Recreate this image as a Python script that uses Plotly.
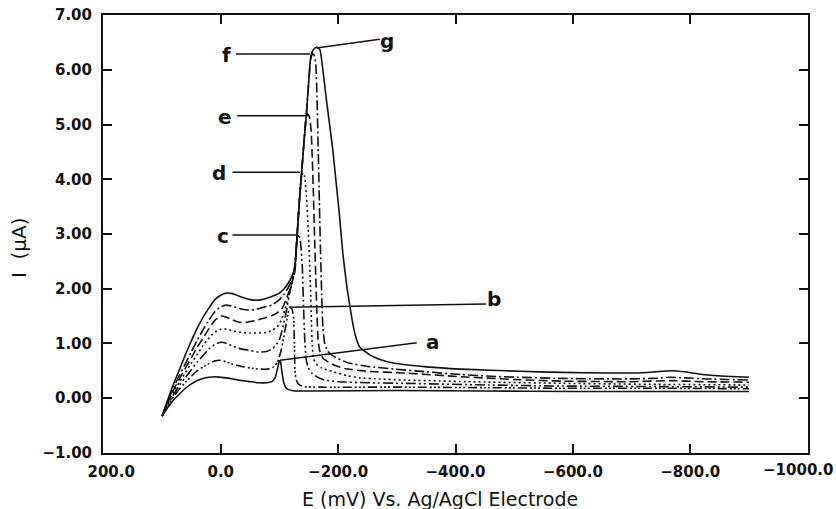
import plotly.graph_objects as go

# ---------------- data (E in mV, I in uA) ----------------
E_a = [100, 90, 80, 70, 60, 50, 40, 30, 20, 10, 0, -10, -20, -35, -50, -65, -78, -87, -93, -97, -100, -102, -104, -107, -111, -117, -126, -150, -300, -450, -600, -750, -900]
I_a = [-0.33, -0.17, -0.03, 0.08, 0.18, 0.26, 0.32, 0.36, 0.38, 0.39, 0.38, 0.37, 0.35, 0.32, 0.30, 0.28, 0.28, 0.30, 0.38, 0.55, 0.68, 0.66, 0.50, 0.30, 0.19, 0.15, 0.13, 0.13, 0.14, 0.13, 0.12, 0.12, 0.12]

E_b = [100, 90, 80, 70, 60, 50, 40, 30, 20, 10, 0, -10, -20, -35, -50, -65, -80, -90, -97, -103, -108, -113, -117, -121, -124, -125.5, -126.5, -129, -134, -141, -170, -311, -450, -580, -750, -900]
I_b = [-0.33, -0.14, 0.03, 0.17, 0.29, 0.40, 0.50, 0.57, 0.63, 0.68, 0.69, 0.66, 0.62, 0.58, 0.55, 0.53, 0.53, 0.57, 0.66, 0.88, 1.15, 1.45, 1.66, 1.64, 1.50, 1.00, 0.50, 0.32, 0.24, 0.21, 0.20, 0.20, 0.19, 0.18, 0.18, 0.17]

E_c = [100, 90, 80, 70, 60, 50, 40, 30, 20, 10, 0, -10, -20, -35, -50, -65, -78, -88, -95, -101, -106, -112, -118, -123, -127, -130, -133, -136, -139, -141, -143, -145, -149, -156, -165, -177, -200, -250, -311, -450, -580, -750, -900]
I_c = [-0.33, -0.12, 0.07, 0.24, 0.38, 0.52, 0.66, 0.78, 0.90, 0.98, 1.02, 1.00, 0.95, 0.90, 0.87, 0.84, 0.85, 0.90, 0.98, 1.10, 1.30, 1.60, 1.95, 2.20, 2.50, 2.90, 3.00, 2.85, 2.40, 1.70, 1.10, 0.75, 0.55, 0.45, 0.38, 0.33, 0.30, 0.28, 0.27, 0.24, 0.22, 0.21, 0.20]

E_d = [100, 90, 80, 70, 60, 50, 40, 30, 20, 10, 0, -10, -20, -35, -50, -65, -78, -88, -96, -103, -109, -115, -121, -126, -130, -134, -137, -140, -143, -146, -149, -151, -153, -154.5, -156, -158, -163, -172, -192, -215, -236, -270, -311, -420, -580, -750, -900]
I_d = [-0.33, -0.10, 0.12, 0.30, 0.47, 0.64, 0.80, 0.96, 1.10, 1.21, 1.26, 1.26, 1.23, 1.20, 1.19, 1.19, 1.20, 1.24, 1.30, 1.42, 1.60, 1.85, 2.08, 2.35, 2.95, 3.60, 4.00, 4.12, 4.05, 3.70, 3.10, 2.60, 2.00, 1.40, 0.95, 0.72, 0.62, 0.55, 0.48, 0.41, 0.37, 0.35, 0.33, 0.30, 0.27, 0.25, 0.24]

E_e = [100, 90, 80, 70, 60, 50, 40, 30, 20, 10, 0, -10, -20, -30, -40, -55, -70, -85, -95, -105, -112, -118, -123, -127, -130, -134, -138, -142, -145, -148, -151, -154, -156, -158, -160, -162, -164, -166, -169, -175, -190, -211, -250, -311, -410, -500, -580, -700, -765, -820, -900]
I_e = [-0.33, -0.07, 0.16, 0.36, 0.55, 0.74, 0.93, 1.10, 1.27, 1.42, 1.50, 1.48, 1.43, 1.39, 1.38, 1.41, 1.45, 1.50, 1.55, 1.65, 1.82, 2.00, 2.18, 2.40, 2.95, 3.60, 4.15, 4.70, 5.10, 5.20, 5.15, 4.90, 4.40, 3.70, 2.90, 2.20, 1.50, 1.05, 0.85, 0.72, 0.62, 0.54, 0.49, 0.46, 0.39, 0.34, 0.31, 0.30, 0.32, 0.30, 0.29]

E_f = [100, 90, 80, 70, 60, 50, 40, 30, 20, 10, 0, -10, -20, -35, -47, -60, -72, -87, -100, -108, -115, -121, -126, -130, -134, -138, -142, -146, -150, -153, -156, -159, -162, -164, -166, -168, -170, -172, -174, -177, -182, -190, -200, -218, -250, -296, -350, -410, -480, -580, -680, -740, -765, -790, -830, -900]
I_f = [-0.33, -0.05, 0.20, 0.43, 0.63, 0.85, 1.06, 1.25, 1.43, 1.58, 1.67, 1.70, 1.68, 1.63, 1.61, 1.62, 1.66, 1.70, 1.80, 1.90, 2.02, 2.15, 2.30, 2.95, 3.60, 4.15, 4.70, 5.20, 5.80, 6.18, 6.30, 6.27, 6.10, 5.50, 4.60, 3.60, 2.70, 1.90, 1.30, 1.00, 0.86, 0.78, 0.72, 0.64, 0.58, 0.53, 0.48, 0.43, 0.39, 0.36, 0.35, 0.36, 0.38, 0.37, 0.35, 0.33]

E_g = [100, 90, 80, 70, 60, 50, 40, 30, 20, 10, 0, -10, -20, -30, -40, -50, -60, -70, -80, -90, -100, -108, -115, -121, -126, -130, -134, -138, -142, -146, -150, -153, -157, -163, -169, -174, -180, -185, -191, -197, -203, -208, -215, -224, -230, -237, -254, -270, -294, -351, -408, -460, -510, -580, -660, -710, -740, -767, -790, -820, -860, -900]
I_g = [-0.33, -0.02, 0.27, 0.53, 0.80, 1.05, 1.28, 1.48, 1.65, 1.80, 1.88, 1.92, 1.91, 1.87, 1.83, 1.80, 1.79, 1.80, 1.83, 1.87, 1.92, 2.00, 2.10, 2.22, 2.38, 2.95, 3.60, 4.15, 4.70, 5.20, 5.80, 6.20, 6.36, 6.42, 6.37, 6.00, 5.46, 5.04, 4.53, 3.90, 3.26, 2.65, 2.03, 1.42, 1.12, 0.93, 0.79, 0.71, 0.64, 0.57, 0.53, 0.51, 0.49, 0.47, 0.46, 0.46, 0.48, 0.50, 0.48, 0.43, 0.40, 0.38]

curve_names = ["a", "b", "c", "d", "e", "f", "g"]
curve_E = [E_a, E_b, E_c, E_d, E_e, E_f, E_g]
curve_I = [I_a, I_b, I_c, I_d, I_e, I_f, I_g]
curve_dash = ["solid", "9px,3px,2px,2px,2px,2px,2px,3px", "10px,3px,2px,3px,2px,3px",
              "2px,3px", "9px,4px", "10px,3px,2px,3px", "solid"]

# label leader lines: tip on curve -> end near text; text position
label_text = ["a", "b", "c", "d", "e", "f", "g"]
label_tip_E = [-101, -117, -129, -135, -146, -152, -163]
label_tip_I = [0.69, 1.66, 2.98, 4.13, 5.16, 6.29, 6.40]
label_end_E = [-334, -452, -20, -20, -28, -26, -271]
label_end_I = [1.01, 1.72, 2.98, 4.13, 5.16, 6.29, 6.56]
label_txt_E = [-362, -466, -4, 3, -8, -10, -284]
label_txt_I = [1.03, 1.81, 2.97, 4.12, 5.14, 6.27, 6.53]

x_tickvals = [200, 0, -200, -400, -600, -800, -1000]
x_ticktext = ["\u00a0\u00a0\u00a0200.0", "0.0", "\u2212200.0", "\u2212400.0", "\u2212600.0", "\u2212800.0",
              "\u22121000.0"]
y_tickvals = [-1, 0, 1, 2, 3, 4, 5, 6, 7]
y_ticktext = ["\u22121.00", "0.00", "1.00", "2.00", "3.00", "4.00", "5.00", "6.00", "7.00"]

x_title = "E (mV) Vs. Ag/AgCl Electrode"
y_title = "I\u00a0 (\u03bcA)"

tick_font = dict(family="DejaVu Sans", size=15, color="#111111", weight="bold")

# ---------------- figure ----------------
fig = go.Figure()
for name, ex, iy, dash in zip(curve_names, curve_E, curve_I, curve_dash):
    fig.add_trace(go.Scatter(x=ex, y=iy, mode="lines", name=name,
                             line=dict(color="#111111", width=1.6, dash=dash,
                                       shape="spline", smoothing=0.4),
                             hoverinfo="skip", showlegend=False))

for t, x0, y0, x1, y1, xt, yt in zip(label_text, label_tip_E, label_tip_I, label_end_E,
                                     label_end_I, label_txt_E, label_txt_I):
    fig.add_trace(go.Scatter(x=[x0, x1], y=[y0, y1], mode="lines",
                             line=dict(color="#111111", width=1.5),
                             hoverinfo="skip", showlegend=False))
    fig.add_annotation(x=xt, y=yt, text=t, showarrow=False, xanchor="center", yanchor="middle",
                       font=dict(family="DejaVu Sans", size=20, color="#111111", weight="bold"))

# last x tick label drawn as annotation so it stays inside the page (as in the original)
fig.add_annotation(x=x_tickvals[-1], y=-0.0388, xref="x", yref="paper", text=x_ticktext[-1],
                   showarrow=False, xanchor="right", yanchor="middle", xshift=27, font=tick_font)

fig.add_annotation(x=0.478, y=-0.106, xref="paper", yref="paper", text=x_title, showarrow=False,
                   xanchor="center", yanchor="middle",
                   font=dict(family="DejaVu Sans", size=19, color="#111111"))
fig.add_annotation(x=-0.119, y=0.468, xref="paper", yref="paper", text=y_title, showarrow=False,
                   textangle=-90, xanchor="center", yanchor="middle",
                   font=dict(family="DejaVu Sans", size=20, color="#111111"))

axis_common = dict(showgrid=False, zeroline=False, showline=True, linecolor="#111111", linewidth=2,
                   ticks="inside", ticklen=9, tickwidth=1.8, tickcolor="#111111", mirror="ticks",
                   automargin=False, tickfont=tick_font)

fig.update_xaxes(range=[200.6, -1000.6], tickmode="array", tickvals=x_tickvals,
                 ticktext=x_ticktext[:-1] + [""], ticklabelstandoff=4, **axis_common)
fig.update_yaxes(range=[-1.004, 7.004], tickmode="array", tickvals=y_tickvals, ticktext=y_ticktext,
                 ticklabelstandoff=6, **axis_common)

fig.update_layout(width=836, height=509, margin=dict(l=103, r=28, t=15, b=56),
                  paper_bgcolor="white", plot_bgcolor="white", showlegend=False)

fig.write_html("out.html")
